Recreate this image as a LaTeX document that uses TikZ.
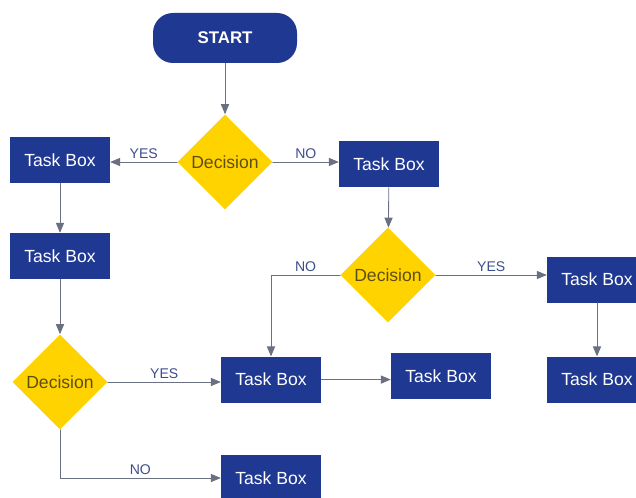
\documentclass[tikz,border=0pt]{standalone}
\usepackage{fontspec}
\setmainfont{Liberation Sans}
\usetikzlibrary{arrows,shapes.geometric}
\definecolor{boxblue}{RGB}{31,56,146}
\definecolor{decyellow}{RGB}{255,211,0}
\definecolor{linegray}{RGB}{105,112,130}
\definecolor{labelblue}{RGB}{60,78,140}
\definecolor{dectext}{RGB}{95,78,20}
\begin{document}
\begin{tikzpicture}[line cap=round,line join=round,>=triangle 45,x=1.0cm,y=1.0cm,
    taskbox/.style={rectangle, fill=boxblue, text=white, minimum width=2.5cm, minimum height=1.15cm, font=\fontsize{12.5}{14}\selectfont},
    startbox/.style={rectangle, rounded corners=0.5cm, fill=boxblue, text=white, minimum width=3.6cm, minimum height=1.25cm, font=\fontsize{12}{14}\selectfont\bfseries},
    decision/.style={diamond, aspect=1, inner sep=0pt, fill=decyellow, text=dectext, minimum size=2.38cm, font=\fontsize{12.5}{14}\selectfont},
    link/.style={->, draw=linegray, line width=0.6pt},
    answer/.style={text=labelblue, font=\fontsize{10}{12}\selectfont, inner sep=2pt}]
        \useasboundingbox (0.,0.) rectangle (15.9,12.45);
        \clip (0.,0.) rectangle (15.9,12.45);

        \node [startbox] (start) at (5.625,11.5) {START};
        \node [decision] (dec1) at (5.625,8.4) {Decision};
        \node [taskbox] (task1) at (1.5,8.45) {Task Box};
        \node [taskbox] (task2) at (9.725,8.34) {Task Box};
        \node [taskbox] (task3) at (1.5,6.05) {Task Box};
        \node [decision] (dec2) at (9.7,5.575) {Decision};
        \node [taskbox] (task4) at (14.925,5.46) {Task Box};
        \node [decision] (dec3) at (1.5,2.9) {Decision};
        \node [taskbox] (task5) at (6.775,2.96) {Task Box};
        \node [taskbox] (task6) at (11.025,3.05) {Task Box};
        \node [taskbox] (task7) at (14.925,2.96) {Task Box};
        \node [taskbox] (task8) at (6.775,0.5) {Task Box};

        \draw [link] (start) -- (dec1);
        \draw [link] (dec1) -- (dec1 -| task1.east) node[midway,above,answer] {YES};
        \draw [link] (dec1) -- (dec1 -| task2.west) node[midway,above,answer] {NO};
        \draw [link] (task1) -- (task3);
        \draw [link] (task3) -- (dec3);
        \draw [link] (task2) -- (dec2);
        \draw [link] (dec2) -- (dec2 -| task4.west) node[midway,above,answer] {YES};
        \draw [link] (dec2.west) -| (task5.north) node[pos=0.25,above,answer] {NO};
        \draw [link] (dec3) -- (dec3 -| task5.west) node[midway,above,answer] {YES};
        \draw [link] (task5) -- (task5 -| task6.west);
        \draw [link] (task4) -- (task7);
        \draw [link] (dec3.south) |- (task8.west) node[pos=0.75,above,answer] {NO};
\end{tikzpicture}
\end{document}
